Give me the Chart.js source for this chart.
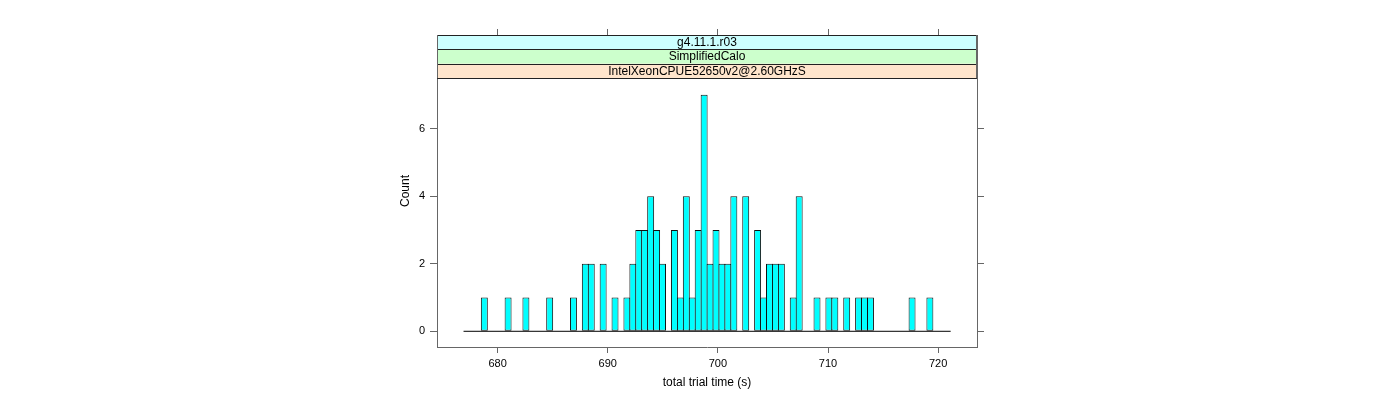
<!DOCTYPE html>
<html>
<head>
<meta charset="utf-8">
<script src="https://cdn.jsdelivr.net/npm/chart.js@4.4.1/dist/chart.umd.min.js"></script>
<style>
html, body { margin: 0; padding: 0; background: #fff; }
#wrap { width: 1400px; height: 400px; }
</style>
</head>
<body>
<div id="wrap"><canvas id="myChart" width="1400" height="400"></canvas></div>
<script>
// Histogramme : bornes des classes (s) et effectifs
const binStart = 676.9;
const binWidth = 0.5395;
const counts = [
    0, 0, 0, 1, 0, 0, 0, 1, 0, 0,
    1, 0, 0, 0, 1, 0, 0, 0, 1, 0,
    2, 2, 0, 2, 0, 1, 0, 1, 2, 3,
    3, 4, 3, 2, 0, 3, 1, 4, 1, 3,
    7, 2, 3, 2, 2, 4, 0, 4, 0, 3,
    1, 2, 2, 2, 0, 1, 4, 0, 0, 1,
    0, 1, 1, 0, 1, 0, 1, 1, 1, 0,
    0, 0, 0, 0, 0, 1, 0, 0, 1, 0,
    0, 0
];
const xTicks = [680, 690, 700, 710, 720];
const yTicks = [0, 2, 4, 6];
const strips = ["g4.11.1.r03", "SimplifiedCalo", "IntelXeonCPUE52650v2@2.60GHzS"];
const stripColors = ["#ccffff", "#ccffcc", "#ffe5cc"];

const FONT = "'Liberation Sans', Arial, Helvetica, sans-serif";
const AXIS_COL = "#666";

// points du histogramme (centre de chaque classe)
const bars = counts.map((c, i) => ({ x: binStart + (i + 0.5) * binWidth, y: c }));
const baseline = [
    { x: binStart, y: 0 },
    { x: binStart + counts.length * binWidth, y: 0 }
];

// bandeaux (strips) en haut du panneau, façon lattice
const stripPlugin = {
    id: 'strips',
    afterDraw(chart) {
        const { ctx, chartArea: a } = chart;
        const h = 14.4;
        ctx.save();
        strips.forEach((label, i) => {
            const y = a.top + i * h;
            ctx.fillStyle = stripColors[i];
            ctx.fillRect(a.left, y, a.right - a.left, h);
            ctx.fillStyle = "#000";
            ctx.font = "12px " + FONT;
            ctx.textAlign = "center";
            ctx.textBaseline = "middle";
            ctx.fillText(label, (a.left + a.right) / 2, y + h / 2 + 0.5);
        });
        ctx.strokeStyle = "#222";
        ctx.lineWidth = 1;
        for (let i = 0; i <= strips.length; i++) {
            const y = Math.round(a.top + i * h) + 0.5;
            ctx.beginPath();
            ctx.moveTo(a.left, y);
            ctx.lineTo(a.right, y);
            ctx.stroke();
        }
        ctx.strokeStyle = AXIS_COL;
        ctx.beginPath();
        ctx.moveTo(a.left + 0.5, a.top);
        ctx.lineTo(a.left + 0.5, a.top + h * strips.length);
        ctx.moveTo(a.right - 0.5, a.top);
        ctx.lineTo(a.right - 0.5, a.top + h * strips.length);
        ctx.stroke();
        ctx.restore();
    }
};

const gridOpts = (len) => ({
    display: true,
    drawOnChartArea: false,
    drawTicks: true,
    tickLength: len,
    offset: false,
    color: AXIS_COL
});

const ctx = document.getElementById('myChart').getContext('2d');
new Chart(ctx, {
    data: {
        datasets: [
            {
                type: 'bar',
                data: bars,
                backgroundColor: '#00ffff',
                borderColor: '#111',
                borderWidth: 1,
                borderSkipped: false,
                categoryPercentage: 1,
                barPercentage: 1.17
            },
            {
                type: 'line',
                data: baseline,
                borderColor: '#000',
                borderWidth: 1,
                pointRadius: 0
            }
        ]
    },
    options: {
        responsive: false,
        animation: false,
        devicePixelRatio: 1,
        layout: { padding: { left: 394, right: 416, top: 29, bottom: 6 } },
        plugins: { legend: { display: false }, tooltip: { enabled: false } },
        scales: {
            x: {
                type: 'linear',
                position: 'bottom',
                offset: false,
                min: 674.49,
                max: 723.53,
                afterBuildTicks: s => { s.ticks = xTicks.map(v => ({ value: v })); },
                afterFit: s => { s.height = 47; },
                ticks: { font: { family: FONT, size: 11 }, color: '#000', padding: 4, maxRotation: 0, autoSkip: false },
                grid: gridOpts(6),
                border: { display: true, color: AXIS_COL },
                title: { display: true, text: 'total trial time (s)', color: '#000', font: { family: FONT, size: 12 } }
            },
            x2: {
                type: 'linear',
                position: 'top',
                offset: false,
                min: 674.49,
                max: 723.53,
                afterBuildTicks: s => { s.ticks = xTicks.map(v => ({ value: v })); },
                afterFit: s => { s.height = 6; },
                ticks: { display: false },
                grid: gridOpts(6),
                border: { display: true, color: AXIS_COL }
            },
            y: {
                type: 'linear',
                position: 'left',
                min: -0.465,
                max: 8.77,
                afterBuildTicks: s => { s.ticks = yTicks.map(v => ({ value: v })); },
                afterFit: s => { s.width = 43; },
                ticks: { font: { family: FONT, size: 11 }, color: '#000', padding: 5 },
                grid: gridOpts(7),
                border: { display: true, color: AXIS_COL },
                title: { display: true, text: 'Count', color: '#000', font: { family: FONT, size: 12 } }
            },
            y2: {
                type: 'linear',
                position: 'right',
                min: -0.465,
                max: 8.77,
                afterBuildTicks: s => { s.ticks = yTicks.map(v => ({ value: v })); },
                afterFit: s => { s.width = 7; },
                ticks: { display: false },
                grid: gridOpts(7),
                border: { display: true, color: AXIS_COL }
            }
        }
    },
    plugins: [stripPlugin]
});
</script>
</body>
</html>
